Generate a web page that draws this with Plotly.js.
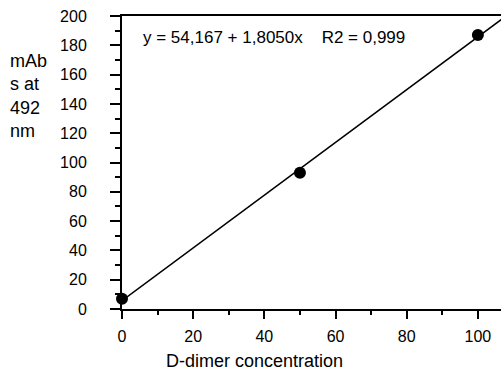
<!DOCTYPE html>
<html><head><meta charset="utf-8">
<script src="https://cdn.plot.ly/plotly-3.0.1.min.js"></script>
<style>html,body{margin:0;padding:0;background:#fff}#c{width:501px;height:371px}</style>
</head><body><div id="c"></div>
<script>
const concentration = [0, 50, 100];
const absorbance = [7, 93, 187];
const fitRangeX = [0, 108];
const equationText = 'y = 54,167 + 1,8050x    R2 = 0,999';
const xTitle = 'D-dimer concentration';
const yTitle = 'mAb<br>s at<br>492<br>nm';

// least squares fit from data
const n = concentration.length;
const mx = concentration.reduce((a,b)=>a+b,0)/n;
const my = absorbance.reduce((a,b)=>a+b,0)/n;
let sxy=0, sxx=0;
for (let i=0;i<n;i++){ sxy+=(concentration[i]-mx)*(absorbance[i]-my); sxx+=(concentration[i]-mx)**2; }
const slope = sxy/sxx, intercept = my - slope*mx;
const fitY = fitRangeX.map(x => intercept + slope*x);

const font = {family:'Liberation Sans, Arial, sans-serif', color:'#000'};
const data = [
  {x: fitRangeX, y: fitY, mode:'lines', line:{color:'#000', width:1.6}, hoverinfo:'skip', cliponaxis:true},
  {x: concentration, y: absorbance, mode:'markers', marker:{color:'#000', size:12}, cliponaxis:false}
];
const layout = {
  width:501, height:371, showlegend:false,
  paper_bgcolor:'#fff', plot_bgcolor:'#fff',
  margin:{l:122, r:0, t:16, b:62},
  font: Object.assign({size:16}, font),
  xaxis:{range:[0,106.5], dtick:20, tick0:0, ticks:'outside', ticklen:8, tickwidth:2, tickcolor:'#000',
    showline:true, linewidth:2, linecolor:'#000', mirror:true, showgrid:false, zeroline:false,
    minor:{dtick:10, tick0:0, ticks:'outside', ticklen:4, tickwidth:2, tickcolor:'#000', showgrid:false},
    tickfont:Object.assign({size:16}, font), ticklabelstandoff:4},
  yaxis:{range:[0,200], dtick:20, tick0:0, ticks:'outside', ticklen:10, tickwidth:2, tickcolor:'#000',
    showline:true, linewidth:2, linecolor:'#000', showgrid:false, zeroline:false,
    minor:{dtick:10, tick0:0, ticks:'outside', ticklen:5, tickwidth:2, tickcolor:'#000', showgrid:false},
    tickfont:Object.assign({size:16}, font), ticklabelstandoff:20},
  annotations:[
    {text:equationText, xref:'paper', yref:'paper', x:0.049, y:0.925, xanchor:'left', yanchor:'middle', showarrow:false, font:Object.assign({size:17}, font)},
    {text:xTitle, xref:'paper', yref:'paper', x:0.35, y:-0.177, xanchor:'center', yanchor:'middle', showarrow:false, borderpad:0, font:Object.assign({size:18}, font)},
    {text:yTitle, xref:'paper', yref:'paper', x:-0.30, y:0.886, xanchor:'left', yanchor:'top', align:'left', showarrow:false, font:Object.assign({size:18}, font)}
  ]
};
Plotly.newPlot('c', data, layout, {staticPlot:true, displayModeBar:false});
</script></body></html>
